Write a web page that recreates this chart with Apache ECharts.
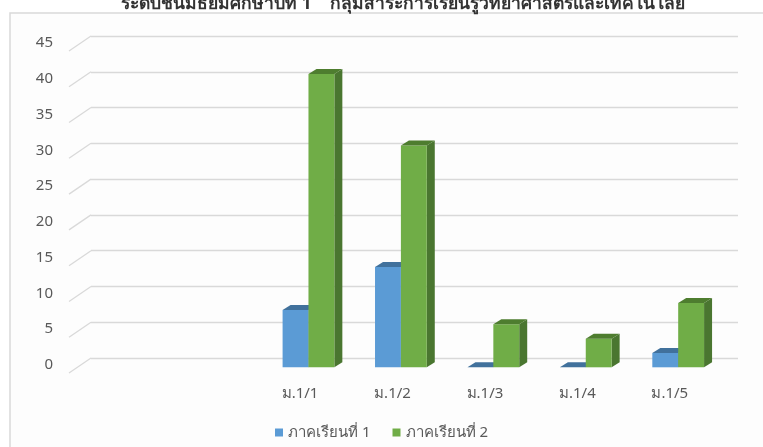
<!DOCTYPE html>
<html>
<head>
<meta charset="utf-8">
<script src="https://cdn.jsdelivr.net/npm/echarts@6/dist/echarts.min.js"></script>
<style>
  html, body { margin: 0; padding: 0; background: #fff; }
  #main { width: 763px; height: 447px; }
</style>
</head>
<body>
<div id="main"></div>
<script>
var titleText = 'ระดับชั้นมัธยมศึกษาปีที่ 1    กลุ่มสาระการเรียนรู้วิทยาศาสตร์และเทคโนโลยี';
var categories = ['', '', 'ม.1/1', 'ม.1/2', 'ม.1/3', 'ม.1/4', 'ม.1/5'];
var term1 = [null, null, 8, 14, 0, 0, 2];
var term2 = [null, null, 41, 31, 6, 4, 9];
var yTicks = [0, 5, 10, 15, 20, 25, 30, 35, 40, 45];
var seriesNames = ['ภาคเรียนที่ 1', 'ภาคเรียนที่ 2'];

var chartDom = document.getElementById('main');
var myChart = echarts.init(chartDom);

// depth of the floor and of the bars (excel 3d look)
var FLOOR_DX = 22, FLOOR_DY = 15;
var BAR_DX = 8, BAR_DY = 5;
var FRONT_DX = -13.6, FRONT_DY = 9.3;

function toPairs(arr) {
  var out = [];
  arr.forEach(function (v, i) {
    if (v !== null) out.push([i, v]);
  });
  return out;
}

function barRenderer(side, front, top, sideColor) {
  return function (params, api) {
    var c = api.coord([api.value(0), api.value(1)]);
    var base = api.coord([api.value(0), 0]);
    var bw = api.size([1, 0])[0] * 0.28;
    var x = c[0] + FRONT_DX + (side === 0 ? -bw : 0);
    var yTop = c[1] + FRONT_DY;
    var yBot = base[1] + FRONT_DY;
    return {
      type: 'group',
      children: [
        {
          type: 'polygon',
          shape: { points: [[x + bw, yTop], [x + bw + BAR_DX, yTop - BAR_DY], [x + bw + BAR_DX, yBot - BAR_DY], [x + bw, yBot]] },
          style: { fill: sideColor }
        },
        {
          type: 'rect',
          shape: { x: x, y: yTop, width: bw, height: yBot - yTop },
          style: { fill: front }
        },
        {
          type: 'polygon',
          shape: { points: [[x, yTop], [x + BAR_DX, yTop - BAR_DY], [x + bw + BAR_DX, yTop - BAR_DY], [x + bw, yTop]] },
          style: { fill: top }
        }
      ]
    };
  };
}

option = {
  backgroundColor: '#fff',
  animation: false,
  graphic: [
    {
      type: 'rect',
      z: -10,
      shape: { x: 10, y: 13, width: 800, height: 500 },
      style: { fill: '#fdfdfd', stroke: '#d9d9d9', lineWidth: 1.5 }
    }
  ],
  title: {
    text: titleText,
    left: 116,
    top: -10,
    textStyle: { fontSize: 17.5, fontWeight: 'bold', color: '#333', fontFamily: 'Noto Sans, sans-serif' }
  },
  legend: {
    bottom: 2,
    left: 'center',
    icon: 'rect',
    itemWidth: 8,
    itemHeight: 8,
    itemGap: 22,
    textStyle: { fontSize: 15, color: '#595959', fontFamily: 'Noto Sans, sans-serif' },
    data: seriesNames
  },
  grid: { left: 91, right: 25, top: 36, bottom: 89 },
  xAxis: {
    type: 'category',
    data: categories,
    axisLine: { show: false },
    axisTick: { show: false },
    axisLabel: {
      margin: 28,
      verticalAlign: 'top',
      padding: [0, 44, 0, 0],
      fontSize: 15,
      color: '#595959',
      fontFamily: 'Noto Sans, sans-serif'
    }
  },
  yAxis: {
    type: 'value',
    min: 0,
    max: 45,
    interval: 5,
    axisLine: { show: false },
    axisTick: { show: false },
    splitLine: { lineStyle: { color: '#d9d9d9', width: 1.3 } },
    axisLabel: {
      margin: 38,
      verticalAlign: 'top',
      lineHeight: 14,
      fontSize: 15,
      color: '#595959',
      fontFamily: 'Noto Sans, sans-serif'
    }
  },
  series: [
    {
      type: 'custom',
      silent: true,
      data: yTicks.map(function (v) { return [0, v]; }),
      renderItem: function (params, api) {
        var p = api.coord([0, api.value(1)]);
        var x0 = params.coordSys.x;
        return {
          type: 'line',
          shape: { x1: x0, y1: p[1], x2: x0 - FLOOR_DX, y2: p[1] + FLOOR_DY },
          style: { stroke: '#d9d9d9', lineWidth: 1.3 }
        };
      }
    },
    {
      name: seriesNames[0],
      type: 'custom',
      itemStyle: { color: '#5b9bd5' },
      data: toPairs(term1),
      renderItem: barRenderer(0, '#5b9bd5', '#41719c', '#41719c')
    },
    {
      name: seriesNames[1],
      type: 'custom',
      itemStyle: { color: '#70ad47' },
      data: toPairs(term2),
      renderItem: barRenderer(1, '#70ad47', '#4e7d2f', '#4a7630')
    }
  ]
};

myChart.setOption(option);
window.addEventListener('resize', myChart.resize);
</script>
</body>
</html>
